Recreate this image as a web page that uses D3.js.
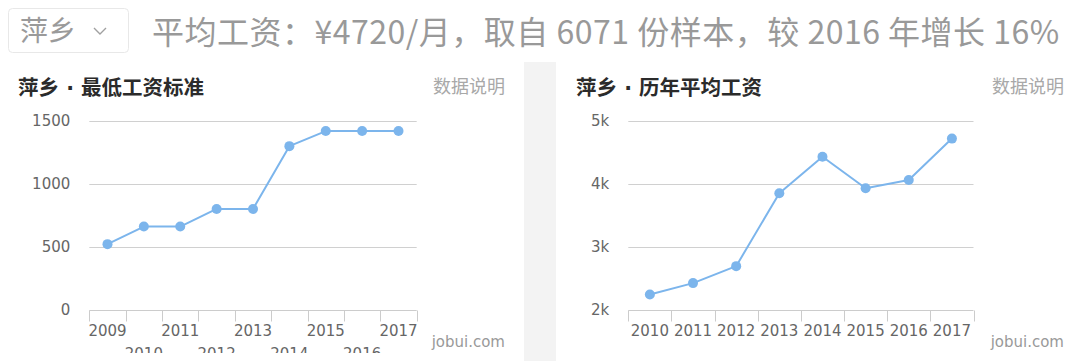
<!DOCTYPE html>
<html>
<head>
<meta charset="utf-8">
<script src="https://cdn.jsdelivr.net/npm/d3@7/dist/d3.min.js"></script>
<style>
  html, body { margin: 0; padding: 0; background: #fff; }
  svg { display: block; }
</style>
</head>
<body>
<svg id="chart" width="1080" height="361"></svg>
<script>
// ---- data ----
const cityName = "萍乡";
const headline = "平均工资：¥4720/月，取自 6071 份样本，较 2016 年增长 16%";
const leftTitleParts = ["萍乡", " · ", "最低工资标准"];
const rightTitleParts = ["萍乡", " · ", "历年平均工资"];
const noteLabel = "数据说明";
const sourceLabel = "jobui.com";

const minWageYears = ["2009", "2010", "2011", "2012", "2013", "2014", "2015", "2016", "2017"];
const minWageValues = [520, 660, 660, 800, 800, 1300, 1420, 1420, 1420];
const minWageTicks = [0, 500, 1000, 1500];

const avgWageYears = ["2010", "2011", "2012", "2013", "2014", "2015", "2016", "2017"];
const avgWageValues = [2240, 2420, 2690, 3850, 4430, 3930, 4060, 4720];
const avgWageTicks = [2000, 3000, 4000, 5000];
const avgWageTickLabels = ["2k", "3k", "4k", "5k"];

// ---- styles ----
const LINE_COLOR = "#7cb5ec";
const GRID_COLOR = "#d0d0d0";
const AXIS_COLOR = "#cccccc";
const LABEL_COLOR = "#666";
const LATIN = "DejaVu Sans, Noto Sans CJK SC, sans-serif";
const CJK = "Noto Sans CJK SC, Noto Sans, sans-serif";

const svg = d3.select("#chart");

// ---- header ----
svg.append("rect")
  .attr("x", 8.5).attr("y", 8.5).attr("width", 120).attr("height", 44)
  .attr("rx", 4).attr("fill", "#fff").attr("stroke", "#e8e8e8");
svg.append("text")
  .attr("x", 20).attr("y", 41)
  .attr("font-family", CJK).attr("font-size", 28).attr("fill", "#9a9a9a")
  .text(cityName);
svg.append("path")
  .attr("d", "M94,28 L100,34 L106,28")
  .attr("fill", "none").attr("stroke", "#a0a0a0").attr("stroke-width", 1.4);
svg.append("text")
  .attr("x", 152).attr("y", 44)
  .attr("font-family", CJK).attr("font-size", 32).attr("fill", "#999")
  .attr("letter-spacing", 0.5)
  .text(headline);

// ---- grey separator ----
svg.append("rect")
  .attr("x", 524).attr("y", 62).attr("width", 32).attr("height", 299)
  .attr("fill", "#f3f3f3");

// clip for lower chart area
const defs = svg.append("defs");
defs.append("clipPath").attr("id", "clipL")
  .append("rect").attr("x", 0).attr("y", 60).attr("width", 524).attr("height", 293);

function panel(opts) {
  const g = svg.append("g").attr("clip-path", opts.clip ? "url(#" + opts.clip + ")" : null);

  const t = g.append("text")
    .attr("x", opts.titleX).attr("y", 95)
    .attr("font-size", 20.5).attr("font-weight", "bold").attr("fill", "#2b2b2b");
  t.selectAll("tspan").data(opts.titleParts).join("tspan")
    .attr("font-family", (d, i) => i === 1 ? LATIN : CJK)
    .text(d => d);

  g.append("text")
    .attr("x", opts.rightEdge).attr("y", 93).attr("text-anchor", "end")
    .attr("font-family", CJK).attr("font-size", 18).attr("fill", "#a8a8a8")
    .text(noteLabel);
  g.append("text")
    .attr("x", opts.rightEdge).attr("y", 347).attr("text-anchor", "end")
    .attr("font-family", LATIN).attr("font-size", 15).attr("fill", "#999")
    .text(sourceLabel);

  const x = d3.scaleBand().domain(opts.years).range([opts.x0, opts.x1]).padding(0);
  const y = d3.scaleLinear().domain(opts.domain).range([309.5, 121]);

  // gridlines
  g.append("g").selectAll("line").data(opts.ticks.slice(1)).join("line")
    .attr("x1", opts.x0).attr("x2", opts.x1)
    .attr("y1", d => Math.round(y(d)) + 0.5).attr("y2", d => Math.round(y(d)) + 0.5)
    .attr("stroke", GRID_COLOR).attr("stroke-width", 1);

  // y labels
  g.append("g").selectAll("text").data(opts.ticks).join("text")
    .attr("x", opts.x0 - 19).attr("y", d => y(d) + 5)
    .attr("text-anchor", "end")
    .attr("font-family", LATIN).attr("font-size", 15).attr("fill", LABEL_COLOR)
    .text((d, i) => opts.tickLabels[i]);

  // x axis
  const axisY = Math.round(y(opts.domain[0])) + 0.5;
  const xAxis = d3.axisBottom(x).tickSize(0).tickPadding(0);
  const ax = g.append("g").attr("transform", `translate(0,${axisY})`).call(xAxis);
  ax.select(".domain").remove();
  ax.attr("font-family", null).attr("font-size", null);
  ax.selectAll("text")
    .attr("font-family", LATIN).attr("font-size", 15).attr("fill", LABEL_COLOR)
    .attr("dy", null)
    .attr("y", (d, i) => (opts.stagger && i % 2 === 1) ? 48 : 25);
  g.append("line")
    .attr("x1", opts.x0).attr("x2", opts.x1).attr("y1", axisY).attr("y2", axisY)
    .attr("stroke", AXIS_COLOR);
  const edges = opts.years.map(d => x(d)).concat([x(opts.years[opts.years.length - 1]) + x.bandwidth()]);
  g.append("g").selectAll("line").data(edges).join("line")
    .attr("x1", d => Math.round(d) + 0.5).attr("x2", d => Math.round(d) + 0.5)
    .attr("y1", axisY).attr("y2", axisY + 11)
    .attr("stroke", AXIS_COLOR);

  // line + markers
  const pts = opts.years.map((d, i) => [x(d) + x.bandwidth() / 2, y(opts.values[i])]);
  g.append("path")
    .attr("d", d3.line()(pts))
    .attr("fill", "none").attr("stroke", LINE_COLOR).attr("stroke-width", 2)
    .attr("stroke-linejoin", "round");
  g.append("g").selectAll("circle").data(pts).join("circle")
    .attr("cx", d => d[0]).attr("cy", d => d[1]).attr("r", 5)
    .attr("fill", LINE_COLOR);
}

panel({
  titleParts: leftTitleParts, titleX: 18, rightEdge: 505,
  years: minWageYears, values: minWageValues,
  domain: [0, 1500], ticks: minWageTicks, tickLabels: minWageTicks.map(String),
  x0: 89.3, x1: 416.7, stagger: true, clip: "clipL"
});

panel({
  titleParts: rightTitleParts, titleX: 576, rightEdge: 1064,
  years: avgWageYears, values: avgWageValues,
  domain: [2000, 5000], ticks: avgWageTicks, tickLabels: avgWageTickLabels,
  x0: 628.3, x1: 973.5, stagger: false, clip: null
});
</script>
</body>
</html>
